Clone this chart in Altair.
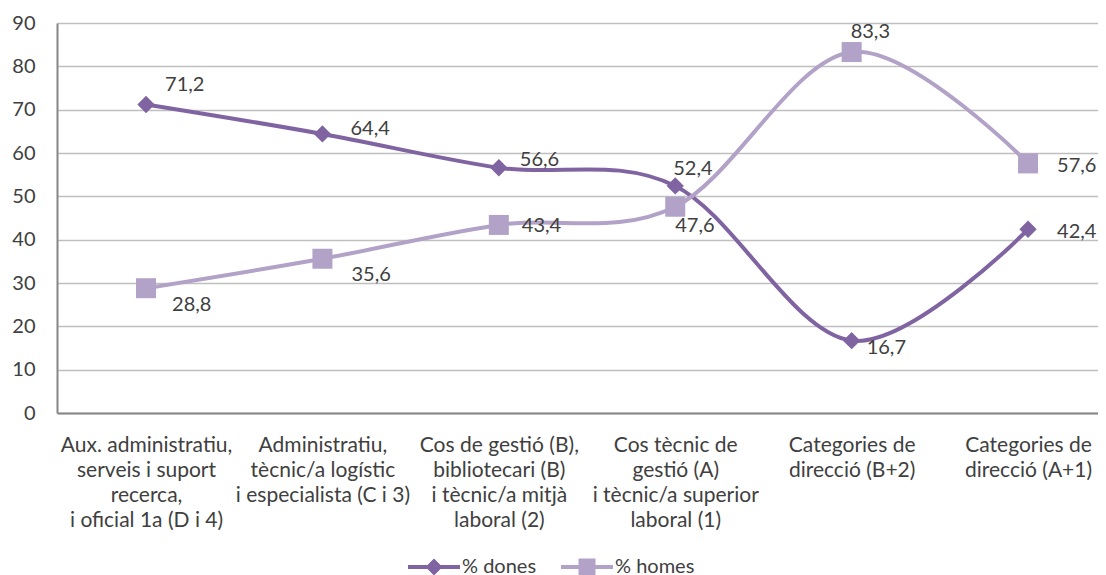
import altair as alt
import pandas as pd

# ---------------- data ----------------
categories = [
    "Aux. administratiu,\nserveis i suport\nrecerca,\ni oficial 1a (D i 4)",
    "Administratiu,\ntècnic/a logístic\ni especialista (C i 3)",
    "Cos de gestió (B),\nbibliotecari (B)\ni tècnic/a mitjà\nlaboral (2)",
    "Cos tècnic de\ngestió (A)\ni tècnic/a superior\nlaboral (1)",
    "Categories de\ndirecció (B+2)",
    "Categories de\ndirecció (A+1)",
]
dones = [71.2, 64.4, 56.6, 52.4, 16.7, 42.4]
homes = [28.8, 35.6, 43.4, 47.6, 83.3, 57.6]
series = ["% dones", "% homes"]
y_ticks = [0, 10, 20, 30, 40, 50, 60, 70, 80, 90]

# ---------------- styles ----------------
FONT = "Lato"
TXT = "#404040"
colors = ["#8064A2", "#B3A2C7"]

# label offsets (dx, dy) relative to each point, per series / index
label_offsets = {
    "% dones": [(19, -19), (28, -5), (21, -8), (-2, -17), (15, 7), (29, 3)],
    "% homes": [(26, 17), (29, 16), (23, 1), (0, 19), (-1, -20), (29, 3)],
}

# legend symbol paths (line + marker)
dones_sym = "M-2.6,-0.2L2.6,-0.2L2.6,0.2L-2.6,0.2Z M0,-0.85L0.85,0L0,0.85L-0.85,0Z"
homes_sym = "M-2.6,-0.2L2.6,-0.2L2.6,0.2L-2.6,0.2Z M-0.85,-0.85L0.85,-0.85L0.85,0.85L-0.85,0.85Z"
shape_expr = f"datum.value === '{series[0]}' ? '{dones_sym}' : '{homes_sym}'"

rows = []
for s, vals in zip(series, [dones, homes]):
    for i, (c, v) in enumerate(zip(categories, vals)):
        rows.append({"cat": c, "idx": i, "serie": s, "value": v,
                     "label": f"{v:.1f}".replace(".", ",")})
df = pd.DataFrame(rows)

x_enc = alt.X("cat:N", sort=categories,
              scale=alt.Scale(type="point", padding=0.4506, align=0.56),
              axis=alt.Axis(title=None, labelAngle=0, ticks=False, grid=False,
                            labelExpr="split(datum.label, '\\n')",
                            labelFont=FONT, labelFontSize=21, labelColor=TXT,
                            labelLineHeight=25, labelPadding=21,
                            domainColor="#868686", domainWidth=2,
                            labelAlign="center", labelBaseline="top"))
y_enc = alt.Y("value:Q", scale=alt.Scale(domain=[0, 90], nice=False, zero=True),
              axis=alt.Axis(title=None, values=y_ticks, ticks=False,
                            labelFont=FONT, labelFontSize=20, labelColor=TXT,
                            labelPadding=22, gridColor="#BFBFBF", gridWidth=1.5,
                            domainColor="#868686", domainWidth=2))

leg = alt.Legend(title=None, orient="none", direction="horizontal",
                 legendX=367, legendY=534,
                 symbolType={"expr": shape_expr},
                 symbolSize=400, symbolStrokeWidth=0,
                 labelOffset=18, columnPadding=24,
                 labelFont=FONT, labelFontSize=20, labelColor=TXT)

col_leg = alt.Color("serie:N", scale=alt.Scale(domain=series, range=colors), legend=leg)
col_enc = alt.Color("serie:N", scale=alt.Scale(domain=series, range=colors))

base = alt.Chart(df)

lines = base.mark_line(interpolate="cardinal", strokeWidth=4).encode(
    x=x_enc, y=y_enc, color=col_leg, detail="serie:N")

pts_d = base.transform_filter(alt.datum.serie == series[0]).mark_point(
    shape="diamond", filled=True, size=300, opacity=1).encode(
    x=x_enc, y=y_enc, color=col_enc)
pts_h = base.transform_filter(alt.datum.serie == series[1]).mark_point(
    shape="square", filled=True, size=400, opacity=1).encode(
    x=x_enc, y=y_enc, color=col_enc)

texts = []
for s in series:
    for i, (dx, dy) in enumerate(label_offsets[s]):
        t = base.transform_filter(
            (alt.datum.serie == s) & (alt.datum.idx == i)
        ).mark_text(align="left", baseline="middle", dx=dx, dy=dy,
                    font=FONT, fontSize=20, color=TXT).encode(
            x=x_enc, y=y_enc, text="label:N")
        texts.append(t)

chart = alt.layer(lines, pts_d, pts_h, *texts).properties(
    width=1041, height=390,
    autosize=alt.AutoSizeParams(type="none"),
    padding={"left": 49, "top": 15, "right": 0, "bottom": 166},
).configure_view(stroke=None)

chart.save("out.html", embed_options={"renderer": "svg", "actions": False})
